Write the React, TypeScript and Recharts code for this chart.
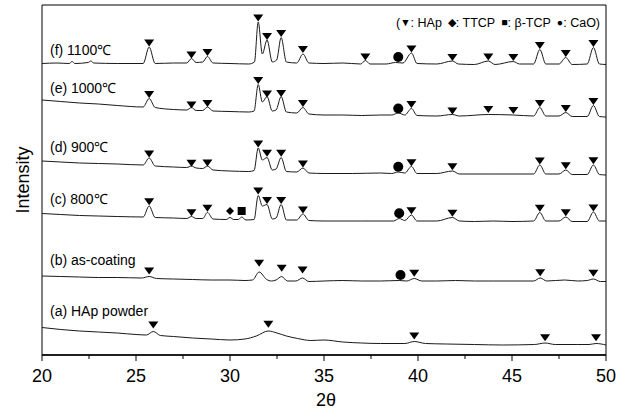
import React from 'react'
import {
  ComposedChart, Line, Scatter, XAxis, YAxis, ReferenceArea,
} from 'recharts'

// [2θ, intensity (a.u., traces already stacked)]
const hapPowder = [
  [20.0, 27.5], [21.0, 25.5], [22.0, 24], [23.0, 23], [24.0, 22], [25.0, 20.5], [25.55, 20],
  [25.92, 23.5], [26.3, 19.5], [27.0, 18.5], [28.0, 17], [29.0, 16], [30.0, 15], [30.8, 16],
  [31.4, 19], [32.04, 24], [32.5, 22], [33.0, 19], [33.6, 16.5], [34.3, 14.5], [35.0, 15],
  [36.0, 13], [37.0, 12], [38.0, 11.5], [39.3, 11.5], [39.8, 13.5], [40.4, 11.5], [41.5, 11],
  [43.0, 10.5], [44.5, 10], [46.2, 10.5], [46.76, 12], [47.3, 10.5], [48.5, 10.5], [49.1, 10.5],
  [49.47, 11.5], [50.0, 10],
]
const asCoating = [
  [20.0, 79], [21.0, 78.5], [22.0, 78], [23.0, 77.5], [24.0, 77.5], [25.3, 77], [25.7, 78.5],
  [26.1, 76.5], [27.0, 76], [28.0, 75.5], [29.0, 75], [30.0, 75], [30.8, 74.5], [31.2, 75],
  [31.55, 83], [31.95, 75.5], [32.2, 74], [32.45, 75], [32.75, 78.5], [33.05, 74], [33.5, 74],
  [33.86, 77], [34.2, 73.5], [35.0, 74], [36.0, 74.5], [37.0, 74], [38.0, 74], [39.0, 74.5],
  [39.4, 74], [39.8, 76.5], [40.2, 74], [41.0, 74], [42.0, 74.5], [43.0, 74], [44.0, 74],
  [45.0, 74], [46.15, 74], [46.5, 77], [46.85, 74], [47.8, 75], [48.5, 74], [49.0, 74.5],
  [49.33, 76], [49.7, 73.5], [50.0, 73.5],
]
const c800 = [
  [20.0, 141.5], [21.0, 140.5], [22.0, 139.5], [23.0, 139], [24.0, 138.5], [25.38, 138],
  [25.7, 149], [26.02, 137.5], [27.0, 137], [27.7, 136.5], [27.95, 138.5], [28.2, 136.5],
  [28.55, 136.5], [28.8, 142.5], [29.1, 136], [29.8, 135.5], [30.0, 137.5], [30.2, 135.5],
  [30.45, 135.5], [30.62, 138], [30.85, 135], [31.28, 135.5], [31.5, 159.5], [31.72, 149],
  [31.97, 150.5], [32.25, 136], [32.45, 137], [32.72, 150.5], [33.0, 135], [33.55, 135],
  [33.88, 141], [34.2, 134.5], [35.0, 134], [37.0, 134], [38.7, 134], [39.0, 136.5],
  [39.3, 134.5], [39.65, 140], [39.95, 134], [41.0, 134], [41.83, 137.5], [42.2, 134],
  [43.0, 133.5], [44.0, 134], [45.0, 133.5], [46.15, 134], [46.48, 142.5], [46.8, 134],
  [47.5, 134], [47.86, 138], [48.2, 133.5], [49.0, 133.5], [49.33, 143], [49.65, 134], [50.0, 134],
]
const c900 = [
  [20.0, 194], [21.0, 193], [22.0, 192], [23.0, 191.5], [24.0, 191], [25.38, 190], [25.7, 197],
  [26.02, 189], [27.0, 188], [27.7, 187.5], [27.95, 189], [28.2, 187], [28.55, 186.5], [28.8, 189],
  [29.1, 185], [30.0, 184], [31.0, 183.5], [31.28, 184.5], [31.5, 207], [31.72, 195],
  [31.97, 197.5], [32.25, 185], [32.45, 186], [32.72, 197.5], [33.0, 183.5], [33.55, 183],
  [33.88, 187], [34.2, 182], [35.0, 181.5], [36.5, 181.5], [38.0, 182], [38.6, 181.5],
  [38.95, 183], [39.3, 182], [39.65, 188.5], [39.95, 181.5], [41.0, 181.5], [41.83, 184],
  [42.2, 181], [44.0, 181], [46.15, 181], [46.48, 190], [46.8, 181], [47.5, 181], [47.86, 185],
  [48.2, 180.5], [49.0, 180.5], [49.33, 190], [49.65, 180.5], [50.0, 180],
]
const c1000 = [
  [20.0, 255], [21.0, 253.5], [22.0, 252], [23.0, 251], [24.0, 249.5], [25.38, 248], [25.7, 256.5],
  [26.02, 247.5], [27.0, 245.5], [27.7, 245], [27.95, 247.5], [28.2, 244.5], [28.55, 244.5],
  [28.8, 248], [29.1, 244], [30.0, 243.5], [31.0, 243], [31.28, 244], [31.5, 270.5], [31.72, 253],
  [31.97, 258.5], [32.25, 244], [32.45, 245], [32.72, 258.5], [33.0, 243], [33.55, 242],
  [33.88, 247.5], [34.2, 241], [35.0, 240], [36.0, 240], [37.0, 239.5], [38.0, 240], [38.6, 240],
  [38.95, 242], [39.3, 240], [39.65, 246.5], [39.95, 239.5], [41.0, 239], [41.83, 240.5],
  [42.2, 239], [43.74, 240.5], [45.07, 240], [46.15, 239], [46.48, 247.5], [46.8, 239], [47.5, 239],
  [47.86, 242.5], [48.2, 238.5], [49.0, 238.5], [49.33, 249.5], [49.65, 238.5], [50.0, 238],
]
const c1100 = [
  [20.0, 291.5], [20.8, 292], [21.45, 291.5], [21.6, 293.5], [21.75, 291.5], [22.45, 292.5],
  [22.6, 294], [22.75, 292], [24.0, 291.5], [25.38, 291.5], [25.7, 308], [26.02, 291.5],
  [27.0, 292], [27.7, 292], [27.95, 296.5], [28.2, 292.5], [28.55, 293], [28.8, 298.5],
  [29.1, 292], [30.0, 291.5], [31.0, 291], [31.3, 293], [31.5, 333], [31.72, 301], [31.97, 315],
  [32.25, 293], [32.48, 295], [32.72, 317.5], [33.0, 293], [33.55, 292], [33.88, 301], [34.2, 292],
  [35.0, 291.5], [36.0, 292], [36.95, 291], [37.2, 294.5], [37.45, 291], [38.3, 291], [38.8, 292.5],
  [39.2, 292], [39.65, 302], [39.95, 291.5], [41.0, 291], [41.83, 294], [42.15, 291], [43.0, 290.5],
  [43.74, 294], [44.1, 290.5], [45.07, 293.5], [45.4, 291], [46.15, 291], [46.48, 305.5],
  [46.8, 291], [47.5, 291], [47.86, 297.5], [48.2, 290.5], [49.0, 291], [49.33, 307.5],
  [49.65, 291], [50.0, 290.5],
]

// phase markers [2θ, height]
const hapMarks = [
  // (a)
  [25.92, 30], [32.04, 30.7], [39.8, 19], [46.76, 17.3], [49.47, 17.3],
  // (b)
  [25.7, 84], [31.55, 91.7], [32.75, 86.7], [33.86, 85], [39.8, 81.7], [46.5, 82.3], [49.33, 81.7],
  // (c)
  [25.7, 153.3], [27.95, 142.3], [28.8, 146.7], [31.5, 164], [31.97, 154.5], [32.72, 154.5],
  [33.88, 145], [39.65, 144.3], [41.83, 141.7], [46.48, 146.7], [47.86, 142.3], [49.33, 147],
  // (d)
  [25.7, 201], [27.95, 191.7], [28.8, 192], [31.5, 211], [31.97, 201.7], [32.72, 201.7],
  [33.88, 191], [39.65, 192.3], [41.83, 188.3], [46.48, 194], [47.86, 189.3], [49.33, 194.3],
  // (e)
  [25.7, 260.5], [27.95, 250], [28.8, 251.5], [31.5, 274.5], [31.97, 261], [32.72, 261.5],
  [33.88, 251.5], [39.65, 250.5], [41.83, 244], [43.74, 245.5], [45.07, 244.5], [46.48, 251.5],
  [47.86, 246.5], [49.33, 253.5],
  // (f)
  [25.7, 312], [27.95, 300], [28.8, 302.5], [31.5, 337], [31.97, 318.5], [32.72, 321.5],
  [33.88, 305.5], [37.2, 298], [39.65, 306], [41.83, 297.5], [43.74, 298], [45.07, 297.5],
  [46.48, 309.5], [47.86, 301.5], [49.33, 311.5],
]
const ttcpMarks = [[30.0, 144]]
const tcpMarks = [[30.62, 144]]
const caoMarks = [[39.07, 80], [39.0, 141.7], [38.95, 188.3], [38.95, 246.5], [38.95, 298]]

const xTicks = [20, 22.5, 25, 27.5, 30, 32.5, 35, 37.5, 40, 42.5, 45, 47.5, 50]

const traces = [
  { name: '(a) HAp powder', points: hapPowder, labelTop: 303 },
  { name: '(b) as-coating', points: asCoating, labelTop: 252 },
  { name: '(c) 800℃', points: c800, labelTop: 191 },
  { name: '(d) 900℃', points: c900, labelTop: 139 },
  { name: '(e) 1000℃', points: c1000, labelTop: 80 },
  { name: '(f) 1100℃', points: c1100, labelTop: 42 },
]

const phases = [
  { sym: '▼', name: 'HAp' },
  { sym: '◆', name: 'TTCP' },
  { sym: '■', name: 'β-TCP' },
  { sym: '●', name: 'CaO' },
]

const toXY = (arr: number[][]) => arr.map(([x, y]) => ({ x, y }))

const Triangle = ({ cx, cy }: any) => (
  <polygon points={`${cx - 5},${cy - 3.5} ${cx + 5},${cy - 3.5} ${cx},${cy + 3.5}`} fill="#000" />
)
const Diamond = ({ cx, cy }: any) => (
  <polygon points={`${cx},${cy - 4} ${cx + 4},${cy} ${cx},${cy + 4} ${cx - 4},${cy}`} fill="#000" />
)
const Square = ({ cx, cy }: any) => <rect x={cx - 4} y={cy - 4} width={8} height={8} fill="#000" />
const Dot = ({ cx, cy }: any) => <circle cx={cx} cy={cy} r={5} fill="#000" />

const TickMark = ({ x, y, payload }: any) => {
  const major = payload.value % 5 === 0
  return (
    <g>
      <line x1={x} x2={x} y1={y} y2={y + (major ? 6 : 4)} stroke="#000" />
      {major && (
        <text x={x} y={y + 27} textAnchor="middle" fontSize={18} fill="#000">
          {payload.value}
        </text>
      )}
    </g>
  )
}

const font = '"Liberation Sans", Arial, sans-serif'

export default function App() {
  return (
    <div style={{ position: 'absolute', left: 0, top: 0, width: 629, height: 412, background: '#fff', fontFamily: font }}>
      <ComposedChart width={629} height={412} margin={{ top: 5, right: 23, bottom: 7, left: 42 }}>
        <XAxis
          type="number"
          dataKey="x"
          domain={[20, 50]}
          ticks={xTicks}
          interval={0}
          height={50}
          tickSize={0}
          tickMargin={0}
          tickLine={false}
          axisLine={{ stroke: '#000', strokeWidth: 1.5 }}
          tick={<TickMark />}
        />
        <YAxis type="number" dataKey="y" domain={[0, 350]} hide />
        <ReferenceArea x1={20} x2={50} y1={0} y2={350} fill="none" stroke="#000" strokeWidth={1} ifOverflow="visible" />
        {traces.map((t) => (
          <Line
            key={t.name}
            data={toXY(t.points)}
            dataKey="y"
            type="monotone"
            stroke="#1a1a1a"
            strokeWidth={1}
            dot={false}
            isAnimationActive={false}
          />
        ))}
        <Scatter data={toXY(hapMarks)} dataKey="y" shape={(p: any) => <Triangle {...p} />} isAnimationActive={false} />
        <Scatter data={toXY(ttcpMarks)} dataKey="y" shape={(p: any) => <Diamond {...p} />} isAnimationActive={false} />
        <Scatter data={toXY(tcpMarks)} dataKey="y" shape={(p: any) => <Square {...p} />} isAnimationActive={false} />
        <Scatter data={toXY(caoMarks)} dataKey="y" shape={(p: any) => <Dot {...p} />} isAnimationActive={false} />
      </ComposedChart>

      {traces.map((t) => (
        <div key={t.name} style={{ position: 'absolute', left: 50, top: t.labelTop, fontSize: 14, lineHeight: '16px', color: '#000', whiteSpace: 'nowrap' }}>
          {t.name}
        </div>
      ))}
      <div style={{ position: 'absolute', left: 396, top: 14, fontSize: 12.5, lineHeight: '16px', color: '#000', whiteSpace: 'nowrap' }}>
        (
        {phases.map((p, i) => (
          <span key={p.name} style={{ marginLeft: i === 0 ? 0 : 6 }}>
            <span style={{ fontSize: 10.5, verticalAlign: '1px' }}>{p.sym}</span>
            {`: ${p.name}`}
          </span>
        ))}
        )
      </div>
      <div
        style={{
          position: 'absolute', left: 23, top: 180, fontSize: 18, lineHeight: '18px', color: '#000',
          transform: 'translate(-50%, -50%) rotate(-90deg)', whiteSpace: 'nowrap',
        }}
      >
        Intensity
      </div>
      <div style={{ position: 'absolute', left: 326, top: 400, fontSize: 18, lineHeight: '18px', color: '#000', transform: 'translate(-50%, -50%)' }}>
        2θ
      </div>
    </div>
  )
}
